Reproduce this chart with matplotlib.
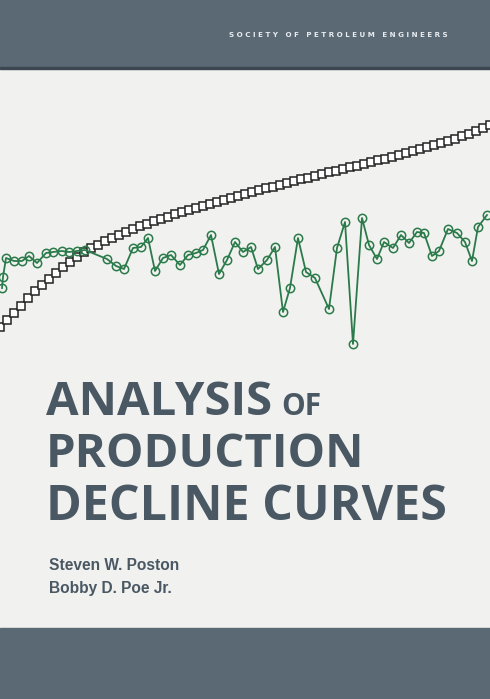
import matplotlib
matplotlib.use("Agg")
import matplotlib.pyplot as plt
import numpy as np

# green monthly rate points (x position, value)
rate_x = [2, 3, 6, 14, 22, 29, 37, 46, 53, 62, 69, 77, 85, 107, 116, 124, 133, 141, 148,
          155, 163, 171, 180, 188, 196, 203, 211, 219, 227, 235, 243, 251, 258, 267, 275,
          283, 290, 298, 306, 315, 329, 337, 345, 353, 362, 369, 377, 384, 393, 401, 409,
          417, 424, 432, 439, 448, 457, 465, 472, 478, 487]
rate_y = [288, 277, 258, 261, 261, 256, 263, 253, 252, 251, 252, 251, 250, 259, 266, 269,
          248, 247, 238, 271, 258, 255, 265, 255, 253, 250, 235, 274, 260, 242, 252, 247,
          269, 260, 247, 312, 288, 238, 272, 278, 309, 248, 222, 344, 218, 245, 259, 242,
          248, 235, 243, 232, 233, 256, 251, 229, 233, 242, 261, 227, 215]

# black cumulative squares
cum_x = list(range(0, 491, 7))
cum_y = [327, 320, 313, 306, 298, 291, 285, 279, 273, 267, 262, 257, 252, 248, 245, 241,
         238, 235, 232, 229, 226, 224, 221, 219, 217, 214, 212, 210, 208, 206, 204, 202,
         200, 198, 196, 194, 192, 190, 188, 187, 185, 183, 181, 179, 178, 176, 174, 172,
         171, 169, 167, 166, 164, 162, 160, 159, 157, 155, 153, 151, 149, 147, 145, 143,
         141, 139, 136, 134, 131, 128, 125]

band = "#5b6975"
ink = "#4a5864"

fig = plt.figure(figsize=(4.9, 6.99), dpi=100)
fig.patch.set_facecolor("#f1f1ef")
ax = fig.add_axes([0, 0, 1, 1])
ax.set_xlim(0, 490)
ax.set_ylim(699, 0)
ax.axis("off")

ax.axhspan(0, 68, color=band)
ax.axhspan(67, 69, color="#3c4650")
ax.axhspan(628, 699, color=band)

ax.plot(cum_x, cum_y, color="#222222", lw=1.0, marker="s", ms=5.6,
        mfc="white", mec="#222222", mew=1.1, clip_on=False)
ax.plot(rate_x, rate_y, color="#2a7a4a", lw=1.3, marker="o", ms=6,
        mfc="none", mec="#2a7a4a", mew=1.1, clip_on=False)

ax.text(448, 35, "S O C I E T Y   O F   P E T R O L E U M   E N G I N E E R S",
        color="#e8ecef", fontsize=5.1, fontweight="bold", ha="right", va="center",
        family="DejaVu Sans")

tf = dict(color=ink, fontweight="bold", family="Open Sans", va="baseline", ha="left")
ax.text(46, 415, "ANALYSIS", fontsize=34, **tf)
ax.text(281, 415, "OF", fontsize=21.5, **tf)
ax.text(46, 467, "PRODUCTION", fontsize=34, **tf)
ax.text(46, 520, "DECLINE CURVES", fontsize=34.8, **tf)

af = dict(color=ink, fontweight="bold", family="Liberation Sans", va="baseline", ha="left",
          fontsize=11.2)
ax.text(49, 570, "Steven W. Poston", **af)
ax.text(49, 593, "Bobby D. Poe Jr.", **af)

fig.savefig("out.png", dpi=100, facecolor=fig.get_facecolor())
